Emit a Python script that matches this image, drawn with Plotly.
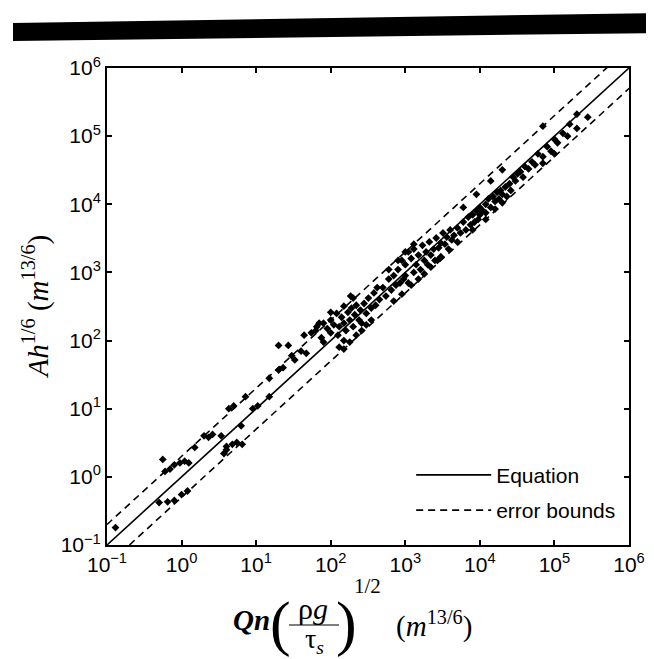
import plotly.graph_objects as go

# ---------------- data ----------------
# low range
low_x = [0.13, 0.56, 0.6, 0.7, 0.8, 0.95, 1.1, 1.25, 1.5, 2.0, 2.3, 2.6, 3.4, 4.3, 5.0, 7.2,
         0.5, 0.65, 0.8, 1.0, 1.2, 3.7, 4.0, 4.0, 4.8, 5.5, 6.5, 6.3, 9.0, 10.5, 15, 15]
low_y = [0.18, 1.8, 1.2, 1.3, 1.5, 1.6, 1.7, 1.6, 2.7, 4.0, 3.8, 4.2, 4.0, 10, 11, 15,
         0.42, 0.43, 0.45, 0.55, 0.62, 2.2, 2.5, 2.8, 3.0, 3.2, 3.0, 5.6, 10, 11, 15, 28]
# ~1e2 range
mid1_x = [20, 23, 20, 27, 30, 33, 40, 47, 44, 55, 65, 80, 185, 63, 70, 75, 80, 90, 100, 100,
          110, 120, 125, 130, 140, 150, 150, 160, 170, 180, 190, 200, 210, 220, 240, 250, 260, 280, 300, 320,
          350, 380, 400, 420, 450, 130, 150, 180, 220, 260, 300, 350, 100, 150, 200]
mid1_y = [37, 40, 85, 85, 60, 52, 70, 65, 120, 130, 160, 180, 450, 140, 180, 110, 95, 150, 130, 200,
          170, 250, 120, 160, 220, 180, 100, 140, 260, 200, 300, 160, 240, 330, 200, 280, 180, 350, 250, 420,
          300, 500, 330, 600, 400, 80, 75, 95, 120, 140, 170, 200, 260, 320, 420]
# ~1e3 range
mid2_x = [500, 550, 600, 650, 700, 750, 800, 850, 900, 950, 1000, 1000, 1100, 1100, 1200, 1300, 1300, 1400, 1500, 1600,
          1700, 1800, 1900, 2000, 2100, 2200, 2400, 2500, 2600, 2800, 3000, 3000, 3200, 3400, 3600, 3800, 4000, 4200,
          700, 900, 1200, 1500, 1800, 2200, 2700, 600, 800, 1000, 1300]
mid2_y = [600, 450, 800, 550, 900, 650, 1100, 700, 1500, 800, 1300, 900, 2000, 700, 1600, 1000, 2200, 1300, 1800, 1100,
          2500, 1500, 2000, 1300, 2800, 1800, 2200, 1500, 3200, 2300, 2700, 1700, 3800, 2600, 3300, 2200, 4200, 3000,
          380, 480, 650, 800, 950, 1200, 1500, 1100, 1500, 2000, 2600]
# ~1e4 range
mid3_x = [4500, 5000, 5500, 6000, 6500, 7000, 7500, 8000, 8500, 9000, 9500, 10000, 10000, 11000, 12000, 12000, 13000,
          14000, 15000, 16000, 17000, 18000, 19000, 20000, 22000, 23000, 25000, 26000, 28000,
          5000, 8000, 12000, 16000, 20000, 6000, 9000, 14000, 20000]
mid3_y = [3500, 4500, 3800, 5500, 4200, 6500, 5000, 7000, 5500, 8000, 6000, 9000, 7000, 8000, 10000, 7500, 12000,
          9000, 13000, 11000, 15000, 12000, 16000, 14000, 18000, 13000, 20000, 16000, 25000,
          2800, 4200, 6000, 8500, 10500, 9000, 14000, 22000, 32000]
# high range
high_x = [30000, 32000, 35000, 38000, 40000, 45000, 50000, 55000, 60000, 70000, 80000, 90000, 100000, 110000,
          130000, 150000, 160000, 200000, 70000, 280000, 200000, 70000, 100000]
high_y = [22000, 28000, 30000, 25000, 36000, 33000, 42000, 38000, 55000, 50000, 70000, 60000, 90000, 80000,
          110000, 100000, 150000, 130000, 140000, 190000, 210000, 40000, 55000]

# lines (end points)
eq_x = [0.1, 1e6]
eq_y = [0.1, 1e6]
upper_x = [0.1, 1e6]
upper_y = [0.2, 2e6]
lower_x = [0.2, 2e6]
lower_y = [0.1, 1e6]

tick_vals = [0.1, 1, 10, 100, 1e3, 1e4, 1e5, 1e6]
tick_text = ["10<sup>\u22121</sup>", "10<sup>0</sup>", "10<sup>1</sup>", "10<sup>2</sup>",
             "10<sup>3</sup>", "10<sup>4</sup>", "10<sup>5</sup>", "10<sup>6</sup>"]

pt_x = low_x + mid1_x + mid2_x + mid3_x + high_x
pt_y = low_y + mid1_y + mid2_y + mid3_y + high_y

# ---------------- figure ----------------
W, H = 654, 659
L, R, T, B = 99, 33, 60, 122
PW, PH = W - L - R, H - T - B


def px(xp):
    return (xp - L) / PW


def py(yp):
    return (H - B - yp) / PH


fig = go.Figure()
fig.add_trace(go.Scatter(x=pt_x, y=pt_y, mode="markers",
                         marker=dict(symbol="diamond", size=6, color="black", line=dict(width=0)),
                         showlegend=False))
fig.add_trace(go.Scatter(x=eq_x, y=eq_y, mode="lines", name="Equation", legendgroup="eq",
                         line=dict(color="black", width=1.6)))
fig.add_trace(go.Scatter(x=upper_x, y=upper_y, mode="lines", name="error bounds", legendgroup="eb",
                         line=dict(color="black", width=1.6, dash="7px,5px")))
fig.add_trace(go.Scatter(x=lower_x, y=lower_y, mode="lines", name="error bounds", legendgroup="eb",
                         showlegend=False, line=dict(color="black", width=1.6, dash="7px,5px")))

axis_common = dict(type="log", range=[-1, 6], tickvals=tick_vals, ticktext=tick_text,
                   showline=True, linecolor="black", linewidth=2, mirror="ticks",
                   ticks="inside", ticklen=5, tickwidth=1.5, tickcolor="black",
                   showgrid=False, zeroline=False,
                   tickfont=dict(family="Liberation Sans", size=21, color="black"))

fig.update_layout(
    width=W, height=H,
    margin=dict(l=L, r=R, t=T, b=B),
    paper_bgcolor="white", plot_bgcolor="white",
    xaxis=axis_common, yaxis=axis_common,
    legend=dict(x=0.985, xanchor="right", y=0.03, yanchor="bottom",
                bgcolor="rgba(0,0,0,0)", borderwidth=0, itemwidth=75,
                font=dict(family="Liberation Sans", size=21, color="black"),
                traceorder="grouped", tracegroupgap=5),
    showlegend=True,
)

serif = "Liberation Serif"
ann = []
# y axis title
ann.append(dict(text="<i>Ah</i><sup>1/6</sup> (<i>m</i><sup>13/6</sup>)", textangle=-90,
                x=px(28), y=0.5, xref="paper", yref="paper", showarrow=False,
                xanchor="center", yanchor="middle",
                font=dict(family=serif, size=29, color="black")))
# x axis title pieces
ann.append(dict(text="<i><b>Qn</b></i>", x=px(243), y=py(612), xref="paper", yref="paper",
                showarrow=False, xanchor="center", yanchor="middle",
                font=dict(family=serif, size=29, color="black")))
ann.append(dict(text="(", x=px(272), y=py(615), xref="paper", yref="paper",
                showarrow=False, xanchor="center", yanchor="middle",
                font=dict(family=serif, size=62, color="black")))
ann.append(dict(text="\u03c1<i>g</i>", x=px(305), y=py(600), xref="paper", yref="paper",
                showarrow=False, xanchor="center", yanchor="middle",
                font=dict(family=serif, size=30, color="black")))
ann.append(dict(text="\u03c4<sub><i>s</i></sub>", x=px(306), y=py(632), xref="paper", yref="paper",
                showarrow=False, xanchor="center", yanchor="middle",
                font=dict(family=serif, size=28, color="black")))
ann.append(dict(text=")", x=px(338), y=py(615), xref="paper", yref="paper",
                showarrow=False, xanchor="center", yanchor="middle",
                font=dict(family=serif, size=62, color="black")))
ann.append(dict(text="1/2", x=px(359), y=py(578), xref="paper", yref="paper",
                showarrow=False, xanchor="center", yanchor="middle",
                font=dict(family=serif, size=21, color="black")))
ann.append(dict(text="(<i>m</i><sup>13/6</sup>)", x=px(426), y=py(616), xref="paper", yref="paper",
                showarrow=False, xanchor="center", yanchor="middle",
                font=dict(family=serif, size=29, color="black")))
fig.update_layout(annotations=ann)

shapes = [
    # fraction bar
    dict(type="line", xref="paper", yref="paper", x0=px(281), x1=px(331), y0=py(617), y1=py(617),
         line=dict(color="black", width=1.2)),
    # black header band from the scanned page
    dict(type="path", xref="paper", yref="paper",
         path=f"M {px(5)},{py(15)} L {px(650)},{py(5)} L {px(650)},{py(25)} L {px(5)},{py(33)} Z",
         fillcolor="black", line=dict(width=0)),
]
fig.update_layout(shapes=shapes)

fig.write_html("out.html")
